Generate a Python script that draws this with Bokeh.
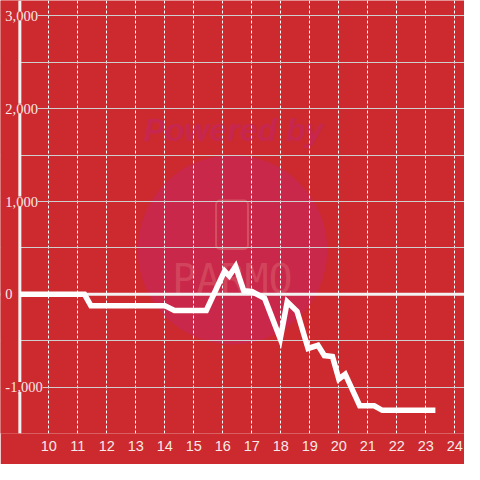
from bokeh.plotting import figure
from bokeh.models import Range1d, FixedTicker, Span, BoxAnnotation, Label, LabelSet, ColumnDataSource
from bokeh.embed import file_html
from bokeh.resources import INLINE

# ---- data ----
line_x = [9.0, 11.23, 11.45, 14.0, 14.33, 15.43, 16.06, 16.22, 16.44, 16.72, 17.0,
          17.44, 17.98, 18.22, 18.56, 18.94, 19.28, 19.5, 19.78, 20.0, 20.22, 20.72,
          21.22, 21.5, 23.33]
line_y = [0, 0, -122, -122, -174, -174, 250, 198, 300, 40, 30,
          -42, -479, -80, -184, -583, -549, -660, -670, -913, -861, -1201,
          -1201, -1250, -1250]
x_ticks = [10, 11, 12, 13, 14, 15, 16, 17, 18, 19, 20, 21, 22, 23, 24]
y_grid = [-1500, -1000, -500, 0, 500, 1000, 1500, 2000, 2500, 3000]
y_ticks = [-1000, 0, 1000, 2000, 3000]
y_labels = ["-1,000", "0", "1,000", "2,000", "3,000"]
x_start = 9.0

BG = "#cc2a2e"
TXT = "#f6e9e9"
FONT = "Liberation Sans"

# helpers: reference-pixel -> data (for decorative placement)
def X(px):
    return 8.3333 + px / 30.0

def Y(py):
    return 3166.67 - py * 1000.0 / 96.0

p = figure(width=464, height=464, output_backend="svg", toolbar_location=None,
           x_range=Range1d(8.3333, 24.3333), y_range=Range1d(-1500, 3166.67),
           y_axis_location=None,
           min_border_left=0, min_border_right=0, min_border_top=0, min_border_bottom=31)
p.background_fill_color = BG
p.border_fill_color = BG
p.outline_line_color = None

# x axis
ax = p.xaxis[0]
ax.ticker = FixedTicker(ticks=x_ticks)
ax.axis_line_color = None
ax.major_tick_line_color = None
ax.minor_tick_line_color = None
ax.major_label_text_color = TXT
ax.major_label_text_font = FONT
ax.major_label_text_font_size = "14.5px"
ax.major_label_standoff = 1

# grids
p.xgrid.ticker = FixedTicker(ticks=x_ticks)
p.xgrid.grid_line_color = "white"
p.xgrid.grid_line_dash = "3 2"
p.xgrid.grid_line_width = 1
p.ygrid.ticker = FixedTicker(ticks=y_grid)
p.ygrid.grid_line_color = "#cfcfcf"
p.ygrid.grid_line_width = 1

# watermark
p.add_layout(BoxAnnotation(left=X(142), right=X(338), top=Y(160), bottom=Y(356),
                           border_radius=95, fill_color="#c9284a", fill_alpha=1.0,
                           line_color=None, level="image"))
p.add_layout(BoxAnnotation(left=X(223), right=X(256), top=Y(207), bottom=Y(257),
                           border_radius=4, fill_alpha=0, line_color="#dc6a72",
                           line_width=2, line_alpha=0.6, level="image"))
p.add_layout(Label(x=X(241), y=Y(134), text="Powered by", text_align="center",
                   text_baseline="middle", text_font=FONT, text_font_size="32px",
                   text_font_style="bold italic", text_color="#c7274f", level="image"))
p.add_layout(Label(x=X(240), y=Y(288), text="PARMO", text_align="center",
                   text_baseline="middle", text_font="DejaVu Sans Mono", text_font_size="40px",
                   text_color="#dc6a72", text_alpha=0.45, level="image"))

# zero line
p.add_layout(Span(location=0, dimension="width", line_color="#f2f2f2", line_width=3, level="underlay"))
# label strip left of the y axis (hides grid lines there)
p.add_layout(BoxAnnotation(right=x_start, fill_color=BG, fill_alpha=1.0, line_color=None, level="underlay"))
# y-axis line
p.add_layout(Span(location=x_start, dimension="height", line_color="#f2f2f2", line_width=3, level="underlay"))

# data line
p.line(x=line_x, y=line_y, line_color="white", line_width=5.5, line_join="miter")

# y tick labels
src = ColumnDataSource(dict(y=y_ticks, text=y_labels))
p.add_layout(LabelSet(x=X(5), y="y", text="text", source=src,
                      text_align="left", text_baseline="middle", text_font=FONT,
                      text_font_size="14.5px", text_color=TXT,
                      background_fill_color=BG, border_line_color=None))

open("out.html", "w").write(file_html(p, INLINE))
